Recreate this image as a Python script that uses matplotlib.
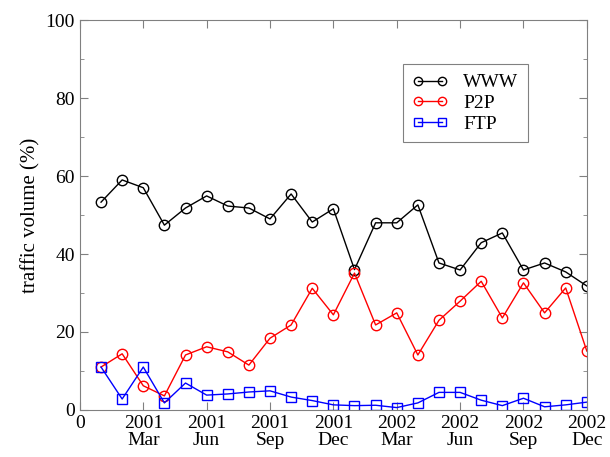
import numpy as np
import matplotlib.pyplot as plt

plt.rcParams['font.family'] = ['Liberation Serif', 'DejaVu Serif']

# months since Jan 2001 (1 = Jan 2001 ... 24 = Dec 2002)
months = np.arange(1, 25)

www = [53.3, 59.0, 57.0, 47.4, 51.8, 54.9, 52.3, 51.8, 49.0, 55.4, 48.2, 51.6,
       36.0, 48.0, 48.0, 52.6, 37.7, 35.9, 42.9, 45.4, 35.9, 37.7, 35.4, 31.8]
p2p = [11.0, 14.4, 6.2, 3.6, 14.1, 16.2, 14.9, 11.5, 18.4, 21.8, 31.2, 24.4,
       35.1, 21.8, 24.9, 14.1, 23.0, 27.9, 33.0, 23.6, 32.6, 24.9, 31.3, 15.1]
ftp = [11.0, 2.8, 11.0, 1.8, 6.9, 3.8, 4.1, 4.6, 4.9, 3.3, 2.4, 1.3,
       1.1, 1.2, 0.6, 1.8, 4.5, 4.5, 2.5, 1.1, 3.0, 0.8, 1.3, 2.0]

xticks = [0, 3, 6, 9, 12, 15, 18, 21, 24]
xtick_labels = ['0', '2001\nMar', '2001\nJun', '2001\nSep', '2001\nDec',
                '2002\nMar', '2002\nJun', '2002\nSep', '2002\nDec']

fig = plt.figure(figsize=(6.1, 4.57), dpi=100)
ax = fig.add_axes([0.131, 0.103, 0.831, 0.853])

ax.plot(months, www, color='black', marker='o', ms=7.5, mfc='none', mew=1, lw=1, label='WWW')
ax.plot(months, p2p, color='red', marker='o', ms=7.5, mfc='none', mew=1, lw=1, label='P2P')
ax.plot(months, ftp, color='blue', marker='s', ms=6.5, mfc='none', mew=1, lw=1, label='FTP')

ax.set_xlim(0, 24)
ax.set_ylim(0, 100)
ax.set_xticks(xticks)
ax.set_xticklabels(xtick_labels, fontsize=14, linespacing=1.05)
ax.set_yticks([0, 20, 40, 60, 80, 100])
ax.set_yticks([10, 30, 50, 70, 90], minor=True)
ax.tick_params(axis='y', labelsize=14)
ax.tick_params(which='both', direction='in', top=True, right=True, color='gray')
ax.tick_params(which='major', length=6)
ax.tick_params(which='minor', length=3)
ax.set_ylabel('traffic volume (%)', fontsize=15)
for s in ax.spines.values():
    s.set_color('gray')

leg = ax.legend(loc='upper left', bbox_to_anchor=(0.637, 0.887), borderaxespad=0,
                numpoints=2, markerscale=0.8, fontsize=14, fancybox=False,
                edgecolor='gray', framealpha=1, handlelength=1.8,
                handletextpad=0.8, borderpad=0.5, labelspacing=0.15)
leg.get_frame().set_linewidth(0.8)

fig.savefig('out.png', dpi=100)
